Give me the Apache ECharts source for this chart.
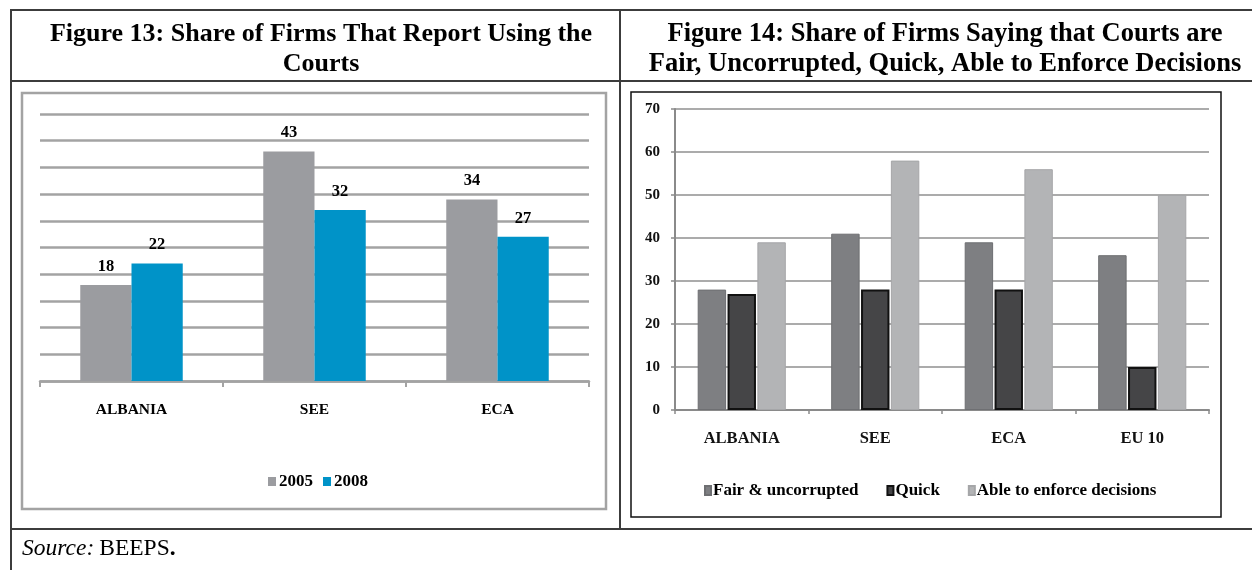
<!DOCTYPE html>
<html><head><meta charset="utf-8">
<script src="https://cdn.jsdelivr.net/npm/echarts@6/dist/echarts.min.js"></script>
<style>html,body{margin:0;padding:0;background:#fff;} #c{width:1252px;height:570px;}</style>
</head><body><div id="c"></div>
<script>
// ---- Data ----
const leftCategories = ['ALBANIA', 'SEE', 'ECA'];
const leftSeriesNames = ['2005', '2008'];
const values2005 = [18, 43, 34];
const values2008 = [22, 32, 27];

const rightCategories = ['ALBANIA', 'SEE', 'ECA', 'EU 10'];
const rightSeriesNames = ['Fair & uncorrupted', 'Quick', 'Able to enforce decisions'];
const fairUncorrupted = [28, 41, 39, 36];
const quickValues = [27, 28, 28, 10];
const ableToEnforce = [39, 58, 56, 50];

const leftTitle = 'Figure 13: Share of Firms That Report Using the\nCourts';
const rightTitle = 'Figure 14: Share of Firms Saying that Courts are\nFair, Uncorrupted, Quick, Able to Enforce Decisions';

// ---- Styles ----
const SERIF = '"Liberation Serif", "Times New Roman", serif';
const chart = echarts.init(document.getElementById('c'), null, {renderer: 'canvas'});

const frame = '#3c3c3c';
chart.setOption({
  animation: false,
  backgroundColor: '#fff',
  title: [
    {text: leftTitle, left: 316, top: 14, textAlign: 'center',
     textStyle: {fontFamily: SERIF, fontWeight: 'bold', fontSize: 26, lineHeight: 30, color: '#000'}},
    {text: rightTitle, left: 940, top: 14, textAlign: 'center',
     textStyle: {fontFamily: SERIF, fontWeight: 'bold', fontSize: 26.5, lineHeight: 30, color: '#000'}},
    {text: '{i|Source:} {n|BEEPS}{b|.}', left: 17, top: 532,
     textStyle: {fontWeight: 'normal', rich: {
       i: {fontFamily: SERIF, fontStyle: 'italic', fontWeight: 'normal', fontSize: 23.5, color: '#000'},
       n: {fontFamily: SERIF, fontWeight: 'normal', fontSize: 23.5, color: '#000'},
       b: {fontFamily: SERIF, fontWeight: 'bold', fontSize: 23.5, color: '#000'}
     }}}
  ],
  graphic: [
    {type: 'line', shape: {x1: 10, y1: 10, x2: 1252, y2: 10}, style: {stroke: frame, lineWidth: 2}},
    {type: 'line', shape: {x1: 11, y1: 9, x2: 11, y2: 570}, style: {stroke: frame, lineWidth: 2}},
    {type: 'line', shape: {x1: 620, y1: 10, x2: 620, y2: 529}, style: {stroke: frame, lineWidth: 2}},
    {type: 'line', shape: {x1: 10, y1: 81, x2: 1252, y2: 81}, style: {stroke: frame, lineWidth: 2}},
    {type: 'line', shape: {x1: 10, y1: 529, x2: 1252, y2: 529}, style: {stroke: frame, lineWidth: 2}},
    {type: 'rect', shape: {x: 22, y: 93, width: 584, height: 416}, style: {fill: 'none', stroke: '#a3a3a3', lineWidth: 2.5}},
    {type: 'rect', shape: {x: 631, y: 92, width: 590, height: 425}, style: {fill: 'none', stroke: '#111', lineWidth: 1.5}}
  ],
  legend: [
    {data: leftSeriesNames, top: 473, left: 268, padding: 0,
     itemWidth: 8, itemHeight: 9, itemGap: 10, icon: 'rect',
     textStyle: {fontFamily: SERIF, fontWeight: 'bold', fontSize: 17, color: '#000', padding: [0, 0, 0, -2]}},
    {data: rightSeriesNames, top: 482, left: 704, padding: 0,
     itemWidth: 6, itemHeight: 9, itemGap: 28, icon: 'rect',
     textStyle: {fontFamily: SERIF, fontWeight: 'bold', fontSize: 17, color: '#000', padding: [0, 0, 0, -3]}}
  ],
  grid: [
    {left: 40, top: 114, width: 549, height: 267, containLabel: false},
    {left: 675, top: 109, width: 534, height: 301, containLabel: false}
  ],
  xAxis: [
    {type: 'category', gridIndex: 0, data: leftCategories,
     axisLine: {lineStyle: {color: '#a3a3a3', width: 2.5}},
     axisTick: {show: true, length: 6, lineStyle: {color: '#a3a3a3', width: 2}},
     axisLabel: {fontFamily: SERIF, fontWeight: 'bold', fontSize: 15.5, color: '#000', margin: 21}},
    {type: 'category', gridIndex: 1, data: rightCategories,
     axisLine: {lineStyle: {color: '#8a8a8a', width: 2}},
     axisTick: {show: true, length: 4, lineStyle: {color: '#8a8a8a', width: 1.5}},
     axisLabel: {fontFamily: SERIF, fontWeight: 'bold', fontSize: 16.5, color: '#111', margin: 20}}
  ],
  yAxis: [
    {type: 'value', gridIndex: 0, min: 0, max: 50, interval: 5,
     axisLine: {show: false}, axisTick: {show: false}, axisLabel: {show: false},
     splitLine: {lineStyle: {color: '#a3a3a3', width: 2.5}}},
    {type: 'value', gridIndex: 1, min: 0, max: 70, interval: 10,
     axisLine: {show: true, lineStyle: {color: '#8a8a8a', width: 2}},
     axisTick: {show: true, length: 4, lineStyle: {color: '#8a8a8a', width: 1.5}},
     axisLabel: {fontFamily: SERIF, fontWeight: 'bold', fontSize: 15, color: '#111', margin: 15},
     splitLine: {lineStyle: {color: '#ababab', width: 2}}}
  ],
  series: [
    {name: leftSeriesNames[0], type: 'bar', xAxisIndex: 0, yAxisIndex: 0, data: values2005,
     barGap: '0%', barCategoryGap: '44%', itemStyle: {color: '#9b9ca0'},
     label: {show: true, position: 'top', distance: 10, fontFamily: SERIF, fontWeight: 'bold', fontSize: 16.5, color: '#000'}},
    {name: leftSeriesNames[1], type: 'bar', xAxisIndex: 0, yAxisIndex: 0, data: values2008,
     barGap: '0%', barCategoryGap: '44%', itemStyle: {color: '#0093c8'},
     label: {show: true, position: 'top', distance: 10, fontFamily: SERIF, fontWeight: 'bold', fontSize: 16.5, color: '#000'}},
    {name: rightSeriesNames[0], type: 'bar', xAxisIndex: 1, yAxisIndex: 1, data: fairUncorrupted,
     barGap: '5%', barCategoryGap: '34%', itemStyle: {color: '#7e7f82', borderColor: '#6e6f72', borderWidth: 1}},
    {name: rightSeriesNames[1], type: 'bar', xAxisIndex: 1, yAxisIndex: 1, data: quickValues,
     barGap: '5%', barCategoryGap: '34%', itemStyle: {color: '#454547', borderColor: '#111', borderWidth: 2}},
    {name: rightSeriesNames[2], type: 'bar', xAxisIndex: 1, yAxisIndex: 1, data: ableToEnforce,
     barGap: '5%', barCategoryGap: '34%', itemStyle: {color: '#b3b4b6', borderColor: '#a5a6a8', borderWidth: 1}}
  ]
});
</script>
</body></html>
